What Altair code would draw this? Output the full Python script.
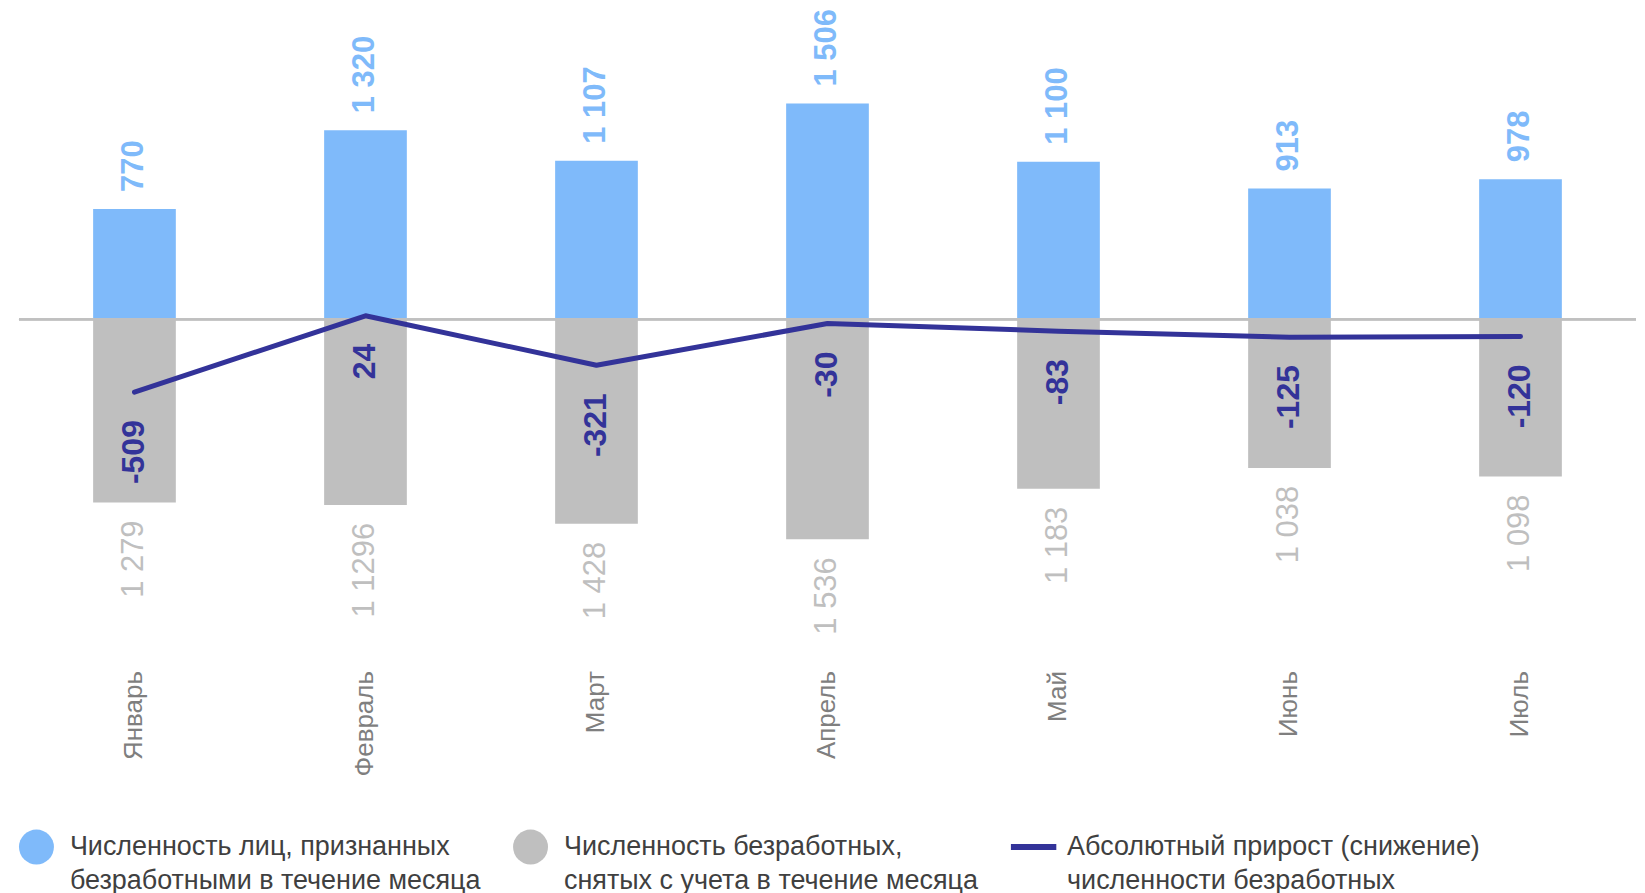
import altair as alt
import pandas as pd

months = ["Январь", "Февраль", "Март", "Апрель", "Май", "Июнь", "Июль"]
registered = [770, 1320, 1107, 1506, 1100, 913, 978]
removed = [1279, 1296, 1428, 1536, 1183, 1038, 1098]
removed_labels = ["1 279", "1 1296", "1 428", "1 536", "1 183", "1 038", "1 098"]
change = [-509, 24, -321, -30, -83, -125, -120]

series = [
    "Численность лиц, признанных|безработными в течение месяца",
    "Численность безработных,|снятых с учета в течение месяца",
    "Абсолютный прирост (снижение)|численности безработных",
]

BLUE = "#7FBAFA"
GRAY = "#BFBFBF"
NAVY = "#333399"
FONT = "Liberation Sans"
LINE_SYMBOL = "M-1.3,-0.17L1.3,-0.17L1.3,0.17L-1.3,0.17Z"


def fmt(v):
    return f"{v:,}".replace(",", " ")


df = pd.DataFrame({
    "month": months,
    "reg": registered,
    "reg_label": [fmt(v) for v in registered],
    "rem": [-v for v in removed],
    "rem_label": removed_labels,
    "chg": change,
    "chg_label": [str(v) for v in change],
})
legend_df = pd.DataFrame({"series": series})

x = alt.X(
    "month:N", sort=months, title=None,
    scale=alt.Scale(paddingInner=0.642, paddingOuter=0.321),
    axis=alt.Axis(labelAngle=270, labelFontSize=26, labelColor="#7F7F7F", labelFont=FONT,
                  labelPadding=10, domain=False, ticks=False, labelAlign="right",
                  labelBaseline="middle"),
)
yscale = alt.Scale(domain=[-2383, 2160], nice=False, zero=False)

legend = alt.Legend(
    title=None, orient="bottom", direction="horizontal", offset=53, padding=0,
    symbolSize=1225, symbolStrokeWidth=0, symbolOpacity=1,
    labelFont=FONT, labelFontSize=27, labelColor="#404040", labelLimit=0,
    labelOffset=16, columnPadding=32, labelExpr="split(datum.label, '|')",
)

base = alt.Chart(df)

bars_reg = base.mark_bar(color=BLUE).encode(
    x=x, y=alt.Y("reg:Q", scale=yscale, axis=None, title=None),
)
bars_rem = base.mark_bar(color=GRAY).encode(x=x, y=alt.Y("rem:Q"))
rule = base.mark_rule(color="#C0C0C0", strokeWidth=2).encode(y=alt.datum(0))
line = base.mark_line(color=NAVY, strokeWidth=5, strokeCap="round", strokeJoin="round").encode(
    x=x, y=alt.Y("chg:Q"),
)
txt_reg = base.mark_text(angle=270, align="left", baseline="middle", dx=17, fontSize=31,
                         fontWeight="bold", font=FONT, color=BLUE).encode(
    x=x, y=alt.Y("reg:Q"), text="reg_label:N")
txt_rem = base.mark_text(angle=270, align="right", baseline="middle", dx=-18, fontSize=31,
                         font=FONT, color=GRAY).encode(
    x=x, y=alt.Y("rem:Q"), text="rem_label:N")
txt_chg = base.mark_text(angle=270, align="right", baseline="middle", dx=-28, fontSize=32,
                         fontWeight="bold", font=FONT, color=NAVY).encode(
    x=x, y=alt.Y("chg:Q"), text="chg_label:N")

legend_layer = alt.Chart(legend_df).mark_point(filled=True, opacity=0).encode(
    color=alt.Color("series:N", sort=series,
                    scale=alt.Scale(domain=series, range=[BLUE, GRAY, NAVY]), legend=legend),
    shape=alt.Shape("series:N", sort=series,
                    scale=alt.Scale(domain=series, range=["circle", "circle", LINE_SYMBOL]),
                    legend=legend),
)

chart = alt.layer(bars_reg, bars_rem, rule, line, txt_reg, txt_rem, txt_chg, legend_layer).properties(
    width=1620, height=652,
    padding={"left": 10, "top": 0, "right": 0, "bottom": 0},
).configure(
    style={"guide-label": {"lineHeight": 34}},
    view={"stroke": None},
)

chart.save("out.html", embed_options={"renderer": "svg", "actions": False})
